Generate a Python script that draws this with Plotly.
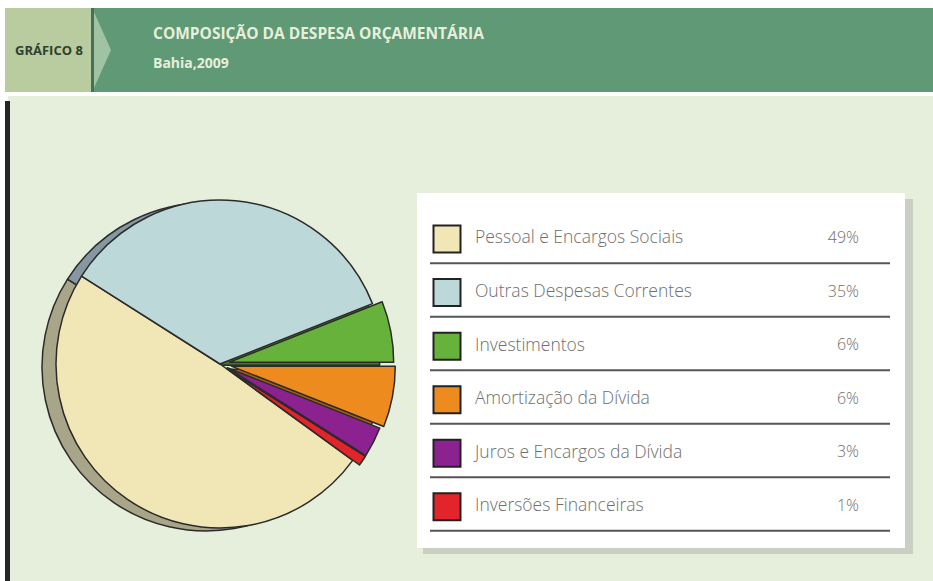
import plotly.graph_objects as go

# data
categorias = ["Pessoal e Encargos Sociais", "Outras Despesas Correntes", "Investimentos",
              "Amortização da Dívida", "Juros e Encargos da Dívida", "Inversões Financeiras"]
valores = [49, 35, 6, 6, 3, 1]
rotulos = ["49%", "35%", "6%", "6%", "3%", "1%"]

cores = ["#f1e7b6", "#bcd8d8", "#67b23a", "#ee8b1f", "#8b2290", "#e3242b"]
cores_sombra = ["#a9a589", "#8598a2", "#3f7a22", "#a85f12", "#5a145e", "#9a181c"]
pull = [0, 0, 0.06, 0.07, 0.05, 0.05]

W, H = 933, 581


def px_x(x):
    return x / W


def px_y(y):
    # pixel from top -> paper
    return 1 - y / H


# pie geometry (pixels)
cx, cy, r = 220, 364, 164
half = r * (1 + max(pull))

fig = go.Figure()

# shadow pie, shifted left
dx_s, dy_s = -14, 3
fig.add_trace(go.Pie(
    values=valores, labels=categorias, sort=False, direction="clockwise", rotation=126,
    pull=pull, textinfo="none", hoverinfo="skip", showlegend=False,
    marker=dict(colors=cores_sombra, line=dict(color="#2b2b2b", width=1.5)),
    domain=dict(x=[px_x(cx + dx_s - half), px_x(cx + dx_s + half)],
                y=[px_y(cy + dy_s + half), px_y(cy + dy_s - half)]),
))

fig.add_trace(go.Pie(
    values=valores, labels=categorias, sort=False, direction="clockwise", rotation=126,
    pull=pull, textinfo="none", showlegend=False,
    marker=dict(colors=cores, line=dict(color="#2b2b2b", width=1.5)),
    domain=dict(x=[px_x(cx - half), px_x(cx + half)],
                y=[px_y(cy + half), px_y(cy - half)]),
))

# legend box as a small table on its own axes
box_l, box_r, box_t, box_b = 417, 905, 193, 548
linhas = list(range(len(categorias)))

fig.add_trace(go.Scatter(
    x=[447] * len(linhas), y=linhas, mode="markers", hoverinfo="skip", showlegend=False,
    marker=dict(symbol="square", size=27, color=cores, line=dict(color="#222222", width=2)),
))
fig.add_trace(go.Scatter(
    x=[475] * len(linhas), y=linhas, mode="text", text=categorias, textposition="middle right",
    hoverinfo="skip", showlegend=False,
    textfont=dict(family="Open Sans", size=17.5, weight=300, color="#6e6e6e"),
))
fig.add_trace(go.Scatter(
    x=[859] * len(linhas), y=linhas, mode="text", text=rotulos, textposition="middle left",
    hoverinfo="skip", showlegend=False,
    textfont=dict(family="Open Sans", size=16, weight=300, color="#6e6e6e"),
))

shapes = [
    # header
    dict(type="rect", xref="paper", yref="paper", x0=px_x(5), x1=px_x(93), y0=px_y(92), y1=px_y(8),
         fillcolor="#b9cc9f", line_width=0, layer="below"),
    dict(type="rect", xref="paper", yref="paper", x0=px_x(93), x1=1, y0=px_y(92), y1=px_y(8),
         fillcolor="#5f9975", line_width=0, layer="below"),
    dict(type="rect", xref="paper", yref="paper", x0=px_x(91), x1=px_x(94), y0=px_y(92), y1=px_y(8),
         fillcolor="#46705a", line_width=0, layer="below"),
    dict(type="path", xref="paper", yref="paper", layer="below", line_width=0, fillcolor="#9fc3a3",
         path=f"M {px_x(94)} {px_y(12)} L {px_x(111)} {px_y(50)} L {px_x(94)} {px_y(88)} Z"),
    # panel
    dict(type="rect", xref="paper", yref="paper", x0=px_x(8), x1=1, y0=0, y1=px_y(96),
         fillcolor="#e5efdb", line_width=0, layer="below"),
    dict(type="rect", xref="paper", yref="paper", x0=px_x(5), x1=px_x(10), y0=0, y1=px_y(101),
         fillcolor="#262626", line_width=0, layer="below"),
    # legend box shadow + box
    dict(type="rect", xref="paper", yref="paper", x0=px_x(box_l + 6), x1=px_x(box_r + 8),
         y0=px_y(box_b + 6), y1=px_y(box_t + 6), fillcolor="#c9cfc3", line_width=0, layer="below"),
    dict(type="rect", xref="paper", yref="paper", x0=px_x(box_l), x1=px_x(box_r),
         y0=px_y(box_b), y1=px_y(box_t), fillcolor="#ffffff", line_width=0, layer="below"),
]
for i in linhas:
    shapes.append(dict(type="line", xref="x", yref="y", x0=430, x1=890, y0=i + 0.45, y1=i + 0.45,
                       line=dict(color="#555555", width=2)))

fig.update_layout(
    width=W, height=H, margin=dict(l=0, r=0, t=0, b=0),
    paper_bgcolor="#ffffff", plot_bgcolor="rgba(0,0,0,0)",
    shapes=shapes,
    xaxis=dict(domain=[px_x(box_l), px_x(box_r)], range=[box_l, box_r], visible=False, fixedrange=True),
    yaxis=dict(domain=[px_y(box_b), px_y(box_t)], range=[5.77, -0.86], visible=False, fixedrange=True),
    annotations=[
        dict(text="<b>GRÁFICO 8</b>", xref="paper", yref="paper", x=px_x(49), y=px_y(50),
             xanchor="center", yanchor="middle", showarrow=False,
             font=dict(family="Open Sans", size=13, color="#2d422f")),
        dict(text="<b>COMPOSIÇÃO DA DESPESA ORÇAMENTÁRIA</b>", xref="paper", yref="paper",
             x=px_x(151), y=px_y(33), xanchor="left", yanchor="middle", showarrow=False,
             font=dict(family="Open Sans", size=15.5, color="#e6efdc")),
        dict(text="<b>Bahia,2009</b>", xref="paper", yref="paper",
             x=px_x(151), y=px_y(62), xanchor="left", yanchor="middle", showarrow=False,
             font=dict(family="Open Sans", size=14, color="#e6efdc")),
    ],
)

# page body has an 8px default margin; drop it so the figure fills the window
fig.write_html("out.html", config={"displayModeBar": False},
               post_script="document.body.style.margin='0px';")
